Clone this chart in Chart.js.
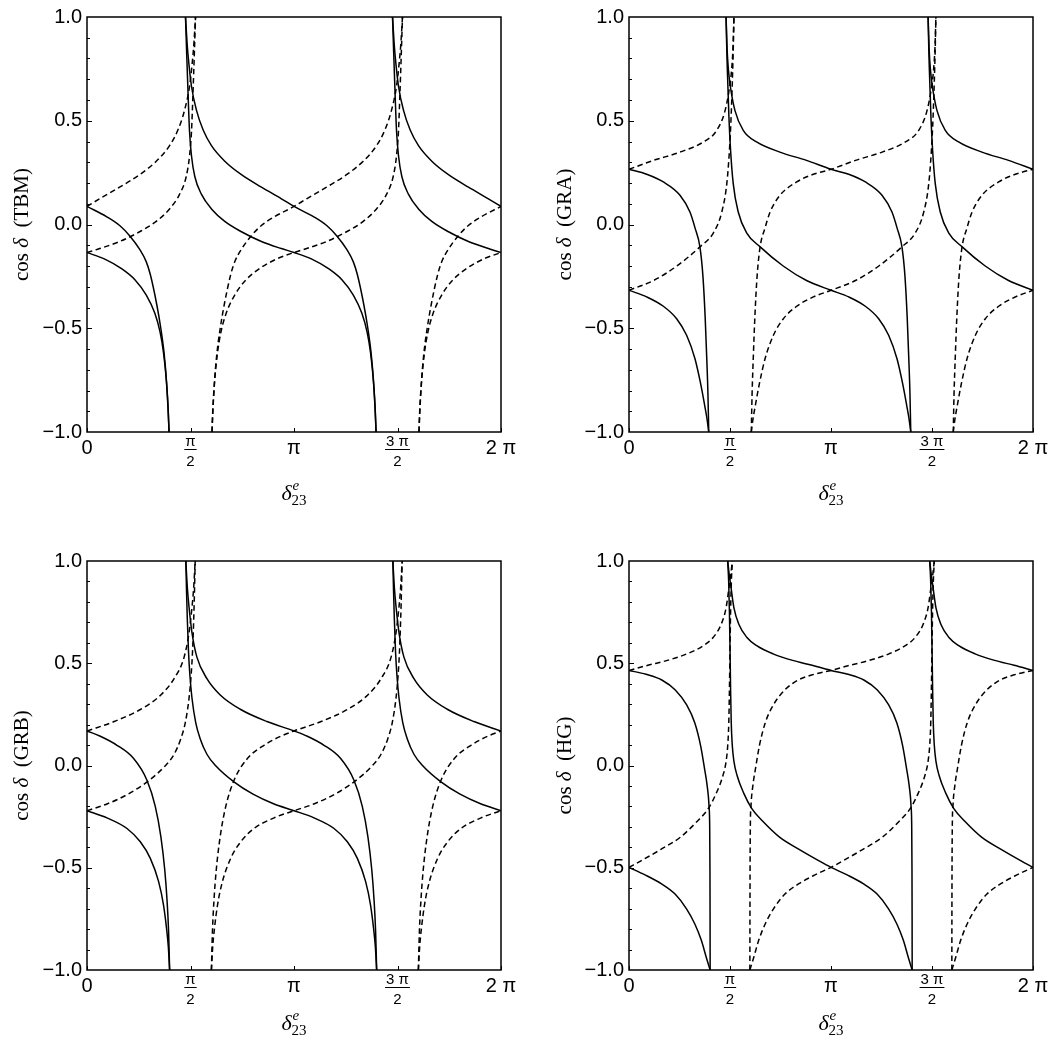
<!DOCTYPE html>
<html><head><meta charset="utf-8">
<script src="https://cdn.jsdelivr.net/npm/chart.js@4.4.1/dist/chart.umd.min.js"></script>
<style>
html,body{margin:0;padding:0;background:#fff;}
#wrap{position:relative;width:1064px;height:1048px;overflow:hidden;background:#fff;}
.cell{position:absolute;width:532px;height:524px;}
</style></head><body>
<div id="wrap">
<div class="cell" style="left:0;top:0"><canvas id="c0" width="532" height="524"></canvas></div>
<div class="cell" style="left:532px;top:0"><canvas id="c1" width="532" height="524"></canvas></div>
<div class="cell" style="left:0;top:524px"><canvas id="c2" width="532" height="524"></canvas></div>
<div class="cell" style="left:532px;top:524px"><canvas id="c3" width="532" height="524"></canvas></div>
</div>
<script>
// ---- labels ----
const panelNames = ['TBM', 'GRA', 'GRB', 'HG'];
const xTickValues = [0, 1.5708, 3.1416, 4.7124, 6.2832];
const xTickLabels = ['0', ['π', '2'], 'π', ['3 π', '2'], '2 π'];
const yTickValues = [-1, -0.5, 0, 0.5, 1];

// ---- data: [delta23e (rad), cos delta]; null separates branches ----
const tbmSolidUpper = [[0,0.087],[0.3,0.037],[0.5,-0.006],[0.65,-0.055],[0.8,-0.12],[0.9,-0.18],[0.96,-0.24],[1.06,-0.388],[1.12,-0.5],[1.17,-0.62],[1.21,-0.77],[1.235,-0.91],[1.245,-1],null,
 [1.495,1],[1.52,0.87],[1.546,0.775],[1.586,0.665],[1.662,0.55],[1.763,0.455],[1.889,0.38],[2.091,0.305],[2.344,0.24],[2.647,0.18],[2.95,0.124],[3.142,0.087],
 [3.442,0.037],[3.642,-0.006],[3.792,-0.055],[3.942,-0.12],[4.042,-0.18],[4.102,-0.24],[4.202,-0.388],[4.262,-0.5],[4.312,-0.62],[4.352,-0.77],[4.377,-0.91],[4.387,-1],null,
 [4.637,1],[4.662,0.87],[4.688,0.775],[4.728,0.665],[4.804,0.55],[4.905,0.455],[5.031,0.38],[5.233,0.305],[5.486,0.24],[5.789,0.18],[6.092,0.124],[6.283,0.087]];
const tbmSolidLower = [[0,-0.135],[0.27,-0.167],[0.53,-0.214],[0.73,-0.267],[0.9,-0.34],[1.03,-0.428],[1.11,-0.52],[1.16,-0.615],[1.2,-0.735],[1.228,-0.875],[1.245,-1],null,
 [1.495,1],[1.51,0.852],[1.536,0.61],[1.556,0.449],[1.586,0.33],[1.637,0.23],[1.738,0.145],[1.889,0.075],[2.091,0.015],[2.344,-0.035],[2.647,-0.082],[2.95,-0.116],[3.142,-0.135],
 [3.412,-0.167],[3.672,-0.214],[3.872,-0.267],[4.042,-0.34],[4.172,-0.428],[4.252,-0.52],[4.302,-0.615],[4.342,-0.735],[4.37,-0.875],[4.387,-1],null,
 [4.637,1],[4.652,0.852],[4.678,0.61],[4.698,0.449],[4.728,0.33],[4.779,0.23],[4.88,0.145],[5.031,0.075],[5.233,0.015],[5.486,-0.035],[5.789,-0.082],[6.092,-0.116],[6.283,-0.135]];
const tbmDashedUpper = [[0,0.087],[0.192,0.124],[0.495,0.18],[0.798,0.24],[1.051,0.305],[1.253,0.38],[1.379,0.455],[1.48,0.55],[1.556,0.665],[1.596,0.775],[1.622,0.87],[1.647,1],null,
 [1.897,-1],[1.907,-0.91],[1.932,-0.77],[1.972,-0.62],[2.022,-0.5],[2.082,-0.388],[2.182,-0.24],[2.242,-0.18],[2.342,-0.12],[2.492,-0.055],[2.642,-0.006],[2.842,0.037],[3.142,0.087],
 [3.333,0.124],[3.636,0.18],[3.939,0.24],[4.192,0.305],[4.394,0.38],[4.52,0.455],[4.621,0.55],[4.697,0.665],[4.737,0.775],[4.763,0.87],[4.788,1],null,
 [5.038,-1],[5.048,-0.91],[5.073,-0.77],[5.113,-0.62],[5.163,-0.5],[5.223,-0.388],[5.323,-0.24],[5.383,-0.18],[5.483,-0.12],[5.633,-0.055],[5.783,-0.006],[5.983,0.037],[6.283,0.087]];
const tbmDashedLower = [[0,-0.135],[0.192,-0.116],[0.495,-0.082],[0.798,-0.035],[1.051,0.015],[1.253,0.075],[1.404,0.145],[1.505,0.23],[1.556,0.33],[1.586,0.449],[1.606,0.61],[1.632,0.852],[1.647,1],null,
 [1.897,-1],[1.914,-0.875],[1.942,-0.735],[1.982,-0.615],[2.032,-0.52],[2.112,-0.428],[2.242,-0.34],[2.412,-0.267],[2.612,-0.214],[2.872,-0.167],[3.142,-0.135],
 [3.333,-0.116],[3.636,-0.082],[3.939,-0.035],[4.192,0.015],[4.394,0.075],[4.545,0.145],[4.646,0.23],[4.697,0.33],[4.727,0.449],[4.747,0.61],[4.773,0.852],[4.788,1],null,
 [5.038,-1],[5.055,-0.875],[5.083,-0.735],[5.123,-0.615],[5.173,-0.52],[5.253,-0.428],[5.383,-0.34],[5.553,-0.267],[5.753,-0.214],[6.013,-0.167],[6.283,-0.135]];

const graSolidUpper = [[0,0.266],[0.275,0.242],[0.534,0.205],[0.793,0.141],[0.948,0.06],[1.03,-0.02],[1.103,-0.108],[1.15,-0.25],[1.185,-0.45],[1.21,-0.65],[1.228,-0.82],[1.24,-1],null,
 [1.51,1],[1.525,0.85],[1.545,0.75],[1.57,0.679],[1.647,0.55],[1.777,0.454],[1.984,0.398],[2.347,0.349],[2.761,0.309],[3.142,0.266],
 [3.417,0.242],[3.676,0.205],[3.935,0.141],[4.09,0.06],[4.172,-0.02],[4.245,-0.108],[4.292,-0.25],[4.327,-0.45],[4.352,-0.65],[4.37,-0.82],[4.382,-1],null,
 [4.652,1],[4.667,0.85],[4.687,0.75],[4.712,0.679],[4.789,0.55],[4.919,0.454],[5.126,0.398],[5.489,0.349],[5.903,0.309],[6.283,0.266]];
const graSolidLower = [[0,-0.317],[0.275,-0.349],[0.534,-0.394],[0.741,-0.454],[0.896,-0.534],[1.026,-0.647],[1.114,-0.767],[1.176,-0.87],[1.215,-0.94],[1.24,-1],null,
 [1.51,1],[1.518,0.88],[1.528,0.759],[1.554,0.518],[1.58,0.357],[1.621,0.197],[1.699,0.06],[1.829,-0.04],[2.04,-0.108],[2.398,-0.2],[2.761,-0.27],[3.142,-0.317],
 [3.417,-0.349],[3.676,-0.394],[3.883,-0.454],[4.038,-0.534],[4.168,-0.647],[4.256,-0.767],[4.318,-0.87],[4.357,-0.94],[4.382,-1],null,
 [4.652,1],[4.66,0.88],[4.67,0.759],[4.696,0.518],[4.722,0.357],[4.763,0.197],[4.841,0.06],[4.971,-0.04],[5.182,-0.108],[5.54,-0.2],[5.903,-0.27],[6.283,-0.317]];
const graDashedUpper = [[0,0.266],[0.381,0.309],[0.795,0.349],[1.158,0.398],[1.365,0.454],[1.495,0.55],[1.572,0.679],[1.597,0.75],[1.617,0.85],[1.632,1],null,
 [1.902,-1],[1.914,-0.82],[1.932,-0.65],[1.957,-0.45],[1.992,-0.25],[2.039,-0.108],[2.112,-0.02],[2.194,0.06],[2.349,0.141],[2.608,0.205],[2.867,0.242],[3.142,0.266],
 [3.522,0.309],[3.936,0.349],[4.299,0.398],[4.506,0.454],[4.636,0.55],[4.713,0.679],[4.738,0.75],[4.758,0.85],[4.773,1],null,
 [5.043,-1],[5.055,-0.82],[5.073,-0.65],[5.098,-0.45],[5.133,-0.25],[5.18,-0.108],[5.253,-0.02],[5.335,0.06],[5.49,0.141],[5.749,0.205],[6.008,0.242],[6.283,0.266]];
const graDashedLower = [[0,-0.317],[0.381,-0.27],[0.744,-0.2],[1.102,-0.108],[1.313,-0.04],[1.443,0.06],[1.521,0.197],[1.562,0.357],[1.588,0.518],[1.614,0.759],[1.624,0.88],[1.632,1],null,
 [1.902,-1],[1.927,-0.94],[1.966,-0.87],[2.028,-0.767],[2.116,-0.647],[2.246,-0.534],[2.401,-0.454],[2.608,-0.394],[2.867,-0.349],[3.142,-0.317],
 [3.522,-0.27],[3.885,-0.2],[4.243,-0.108],[4.454,-0.04],[4.584,0.06],[4.662,0.197],[4.703,0.357],[4.729,0.518],[4.755,0.759],[4.765,0.88],[4.773,1],null,
 [5.043,-1],[5.068,-0.94],[5.107,-0.87],[5.169,-0.767],[5.257,-0.647],[5.387,-0.534],[5.542,-0.454],[5.749,-0.394],[6.008,-0.349],[6.283,-0.317]];

const grbSolidUpper = [[0,0.169],[0.202,0.143],[0.455,0.099],[0.708,0.034],[0.91,-0.072],[1.036,-0.2],[1.122,-0.35],[1.18,-0.51],[1.215,-0.66],[1.238,-0.81],[1.254,-1],null,
 [1.5,1],[1.525,0.86],[1.55,0.77],[1.593,0.65],[1.668,0.53],[1.82,0.425],[2.022,0.345],[2.326,0.275],[2.73,0.215],[3.142,0.169],
 [3.344,0.143],[3.597,0.099],[3.85,0.034],[4.052,-0.072],[4.178,-0.2],[4.264,-0.35],[4.322,-0.51],[4.357,-0.66],[4.38,-0.81],[4.396,-1],null,
 [4.642,1],[4.667,0.86],[4.692,0.77],[4.735,0.65],[4.81,0.53],[4.962,0.425],[5.164,0.345],[5.468,0.275],[5.872,0.215],[6.283,0.169]];
const grbSolidLower = [[0,-0.221],[0.303,-0.256],[0.607,-0.308],[0.809,-0.373],[0.961,-0.454],[1.087,-0.568],[1.16,-0.68],[1.205,-0.79],[1.235,-0.89],[1.254,-1],null,
 [1.5,1],[1.51,0.86],[1.522,0.72],[1.54,0.56],[1.562,0.44],[1.593,0.33],[1.65,0.21],[1.719,0.13],[1.82,0.055],[1.95,0],[2.23,-0.08],[2.52,-0.14],[2.831,-0.187],[3.142,-0.221],
 [3.445,-0.256],[3.749,-0.308],[3.951,-0.373],[4.103,-0.454],[4.229,-0.568],[4.302,-0.68],[4.347,-0.79],[4.377,-0.89],[4.396,-1],null,
 [4.642,1],[4.652,0.86],[4.664,0.72],[4.682,0.56],[4.704,0.44],[4.735,0.33],[4.792,0.21],[4.861,0.13],[4.962,0.055],[5.092,0],[5.372,-0.08],[5.662,-0.14],[5.973,-0.187],[6.283,-0.221]];
const grbDashedUpper = [[0,0.169],[0.412,0.215],[0.816,0.275],[1.12,0.345],[1.322,0.425],[1.474,0.53],[1.549,0.65],[1.592,0.77],[1.617,0.86],[1.642,1],null,
 [1.888,-1],[1.904,-0.81],[1.927,-0.66],[1.962,-0.51],[2.02,-0.35],[2.106,-0.2],[2.232,-0.072],[2.434,0.034],[2.687,0.099],[2.94,0.143],[3.142,0.169],
 [3.553,0.215],[3.957,0.275],[4.261,0.345],[4.463,0.425],[4.615,0.53],[4.69,0.65],[4.733,0.77],[4.758,0.86],[4.783,1],null,
 [5.029,-1],[5.045,-0.81],[5.068,-0.66],[5.103,-0.51],[5.161,-0.35],[5.247,-0.2],[5.373,-0.072],[5.575,0.034],[5.828,0.099],[6.081,0.143],[6.283,0.169]];
const grbDashedLower = [[0,-0.221],[0.311,-0.187],[0.622,-0.14],[0.912,-0.08],[1.192,0],[1.322,0.055],[1.423,0.13],[1.492,0.21],[1.549,0.33],[1.58,0.44],[1.602,0.56],[1.62,0.72],[1.632,0.86],[1.642,1],null,
 [1.888,-1],[1.907,-0.89],[1.937,-0.79],[1.982,-0.68],[2.055,-0.568],[2.181,-0.454],[2.333,-0.373],[2.535,-0.308],[2.839,-0.256],[3.142,-0.221],
 [3.452,-0.187],[3.763,-0.14],[4.053,-0.08],[4.333,0],[4.463,0.055],[4.564,0.13],[4.633,0.21],[4.69,0.33],[4.721,0.44],[4.743,0.56],[4.761,0.72],[4.773,0.86],[4.783,1],null,
 [5.029,-1],[5.048,-0.89],[5.078,-0.79],[5.123,-0.68],[5.196,-0.568],[5.322,-0.454],[5.474,-0.373],[5.676,-0.308],[5.98,-0.256],[6.283,-0.221]];

const hgSolidUpper = [[0,0.465],[0.263,0.446],[0.517,0.417],[0.72,0.369],[0.897,0.296],[1.024,0.208],[1.115,0.095],[1.176,-0.018],[1.216,-0.1],[1.245,-0.2],[1.255,-0.3],[1.259,-0.5],[1.261,-0.75],[1.262,-1],null,
 [1.535,1],[1.56,0.93],[1.581,0.884],[1.632,0.771],[1.708,0.691],[1.834,0.626],[1.986,0.586],[2.24,0.546],[2.544,0.514],[2.848,0.49],[3.142,0.465],
 [3.405,0.446],[3.659,0.417],[3.862,0.369],[4.039,0.296],[4.166,0.208],[4.257,0.095],[4.318,-0.018],[4.358,-0.1],[4.387,-0.2],[4.397,-0.3],[4.401,-0.5],[4.403,-0.75],[4.404,-1],null,
 [4.677,1],[4.702,0.93],[4.723,0.884],[4.774,0.771],[4.85,0.691],[4.976,0.626],[5.128,0.586],[5.382,0.546],[5.686,0.514],[5.99,0.49],[6.283,0.465]];
const hgSolidLower = [[0,-0.498],[0.25,-0.535],[0.5,-0.578],[0.72,-0.63],[0.897,-0.702],[1.024,-0.775],[1.125,-0.855],[1.2,-0.936],[1.262,-1],null,
 [1.535,1],[1.55,0.9],[1.562,0.75],[1.572,0.55],[1.58,0.37],[1.59,0.21],[1.606,0.1],[1.632,0.02],[1.682,-0.05],[1.784,-0.135],[1.91,-0.211],[2.088,-0.275],[2.341,-0.35],[2.645,-0.41],[2.949,-0.465],[3.142,-0.498],
 [3.392,-0.535],[3.642,-0.578],[3.862,-0.63],[4.039,-0.702],[4.166,-0.775],[4.267,-0.855],[4.342,-0.936],[4.404,-1],null,
 [4.677,1],[4.692,0.9],[4.704,0.75],[4.714,0.55],[4.722,0.37],[4.732,0.21],[4.748,0.1],[4.774,0.02],[4.824,-0.05],[4.926,-0.135],[5.052,-0.211],[5.23,-0.275],[5.483,-0.35],[5.787,-0.41],[6.091,-0.465],[6.283,-0.498]];
const hgDashedUpper = [[0,0.465],[0.294,0.49],[0.598,0.514],[0.902,0.546],[1.156,0.586],[1.308,0.626],[1.434,0.691],[1.51,0.771],[1.561,0.884],[1.582,0.93],[1.607,1],null,
 [1.88,-1],[1.881,-0.75],[1.883,-0.5],[1.887,-0.3],[1.897,-0.2],[1.926,-0.1],[1.966,-0.018],[2.027,0.095],[2.118,0.208],[2.245,0.296],[2.422,0.369],[2.625,0.417],[2.879,0.446],[3.142,0.465],
 [3.435,0.49],[3.739,0.514],[4.043,0.546],[4.297,0.586],[4.449,0.626],[4.575,0.691],[4.651,0.771],[4.702,0.884],[4.723,0.93],[4.748,1],null,
 [5.021,-1],[5.022,-0.75],[5.024,-0.5],[5.028,-0.3],[5.038,-0.2],[5.067,-0.1],[5.107,-0.018],[5.168,0.095],[5.259,0.208],[5.386,0.296],[5.563,0.369],[5.766,0.417],[6.02,0.446],[6.283,0.465]];
const hgDashedLower = [[0,-0.498],[0.193,-0.465],[0.497,-0.41],[0.801,-0.35],[1.054,-0.275],[1.232,-0.211],[1.358,-0.135],[1.46,-0.05],[1.51,0.02],[1.536,0.1],[1.552,0.21],[1.562,0.37],[1.57,0.55],[1.58,0.75],[1.592,0.9],[1.607,1],null,
 [1.88,-1],[1.942,-0.936],[2.017,-0.855],[2.118,-0.775],[2.245,-0.702],[2.422,-0.63],[2.642,-0.578],[2.892,-0.535],[3.142,-0.498],
 [3.334,-0.465],[3.638,-0.41],[3.942,-0.35],[4.195,-0.275],[4.373,-0.211],[4.499,-0.135],[4.601,-0.05],[4.651,0.02],[4.677,0.1],[4.693,0.21],[4.703,0.37],[4.711,0.55],[4.721,0.75],[4.733,0.9],[4.748,1],null,
 [5.021,-1],[5.083,-0.936],[5.158,-0.855],[5.259,-0.775],[5.386,-0.702],[5.563,-0.63],[5.783,-0.578],[6.033,-0.535],[6.283,-0.498]];

// ---- drawing ----
const W = 532, H = 524;
const SANS = "'Liberation Sans', Arial, Helvetica, sans-serif";
const SERIF = "'Liberation Serif', 'Times New Roman', serif";

function splitSegments(arr) {
  const segs = []; let cur = [];
  arr.forEach(p => { if (p === null) { if (cur.length) segs.push(cur); cur = []; } else cur.push(p); });
  if (cur.length) segs.push(cur);
  return segs;
}

const framePlugin = {
  id: 'frameTitles',
  afterDraw(chart) {
    const o = chart.options.plugins.frameTitles;
    const ctx = chart.ctx, ca = chart.chartArea;
    const xs = chart.scales.x, ys = chart.scales.y;
    ctx.save();
    ctx.strokeStyle = '#000'; ctx.lineWidth = 1.5;
    ctx.strokeRect(ca.left, ca.top, ca.right - ca.left, ca.bottom - ca.top);
    ctx.lineWidth = 1;
    ctx.beginPath();
    for (let i = -9; i <= 9; i++) {
      const y = Math.round(ys.getPixelForValue(i / 10)) + 0.5;
      const len = (i % 5 === 0) ? 5 : 3;
      ctx.moveTo(ca.left, y); ctx.lineTo(ca.left + len, y);
    }
    xTickValues.forEach(v => {
      const x = Math.round(xs.getPixelForValue(v)) + 0.5;
      ctx.moveTo(x, ca.bottom); ctx.lineTo(x, ca.bottom - 4);
    });
    ctx.stroke();
    // fraction bars under the numerators of pi/2 and 3pi/2
    ctx.font = '15px ' + SANS;
    ctx.lineWidth = 1;
    xTickLabels.forEach((lab, i) => {
      if (!Array.isArray(lab)) return;
      const x = xs.getPixelForValue(xTickValues[i]);
      const w = ctx.measureText(lab[0]).width + 2;
      const y = ca.bottom + o.barOffset + 0.5;
      ctx.beginPath(); ctx.moveTo(x - w / 2, y); ctx.lineTo(x + w / 2, y); ctx.stroke();
    });
    // y title: cos δ  (NAME)
    ctx.fillStyle = '#000';
    ctx.translate(o.yTitleX, (ca.top + ca.bottom) / 2);
    ctx.rotate(-Math.PI / 2);
    const parts = [['cos ', ''], ['δ', 'italic '], ['  (' + o.name + ')', '']];
    let total = 0;
    parts.forEach(p => { ctx.font = p[1] + '21px ' + SERIF; total += ctx.measureText(p[0]).width; });
    let cx = -total / 2;
    ctx.textBaseline = 'middle'; ctx.textAlign = 'left';
    parts.forEach(p => { ctx.font = p[1] + '21px ' + SERIF; ctx.fillText(p[0], cx, 0); cx += ctx.measureText(p[0]).width; });
    ctx.setTransform(1, 0, 0, 1, 0, 0);
    // x title: δ^e_23
    const mx = (ca.left + ca.right) / 2;
    const by = ca.bottom + o.xTitleOffset;
    ctx.textBaseline = 'alphabetic'; ctx.textAlign = 'left';
    ctx.font = 'italic 22px ' + SERIF;
    const dw = ctx.measureText('δ').width;
    const x0 = mx - (dw + 15) / 2;
    ctx.fillText('δ', x0, by);
    ctx.font = 'italic 15px ' + SERIF;
    ctx.fillText('e', x0 + dw + 1, by - 10);
    ctx.font = '15px ' + SERIF;
    ctx.fillText('23', x0 + dw, by + 5);
    ctx.restore();
  }
};

function makeChart(id, name, series, area, xTitleOffset, yTitleX) {
  const datasets = [];
  series.forEach(([arr, dashed]) => {
    splitSegments(arr).forEach(seg => datasets.push({
      data: seg.map(p => ({ x: p[0], y: p[1] })),
      borderColor: '#000', borderWidth: 1.5, borderDash: dashed ? [5.5, 3.5] : [],
      pointRadius: 0, pointHoverRadius: 0, tension: 0.4, cubicInterpolationMode: 'monotone',
      fill: false, clip: 0
    }));
  });
  return new Chart(document.getElementById(id), {
    type: 'line',
    data: { datasets },
    plugins: [framePlugin],
    options: {
      responsive: false, animation: false, devicePixelRatio: 1,
      events: [],
      layout: { padding: { left: 0, top: area.top, right: W - area.right, bottom: 0 } },
      plugins: {
        legend: { display: false }, tooltip: { enabled: false },
        frameTitles: { name, xTitleOffset, yTitleX, barOffset: 17 }
      },
      scales: {
        x: {
          type: 'linear', min: 0, max: 2 * Math.PI,
          afterBuildTicks: s => { s.ticks = xTickValues.map(v => ({ value: v })); },
          afterFit: s => { s.height = H - area.bottom; s.paddingLeft = 0; s.paddingRight = 0; },
          grid: { display: false, drawTicks: false }, border: { display: false },
          ticks: {
            autoSkip: false, maxRotation: 0, minRotation: 0, padding: 0, color: '#000',
            callback: (v, i) => xTickLabels[i],
            font: c => (Array.isArray(xTickLabels[c.index]) ? { family: SANS, size: 15, lineHeight: 1.34 } : { family: SANS, size: 20, lineHeight: 1.6 })
          }
        },
        y: {
          type: 'linear', min: -1, max: 1,
          afterBuildTicks: s => { s.ticks = yTickValues.map(v => ({ value: v })); },
          afterFit: s => { s.width = area.left; s.paddingTop = 0; s.paddingBottom = 0; },
          grid: { display: false, drawTicks: false }, border: { display: false },
          ticks: {
            padding: 5, color: '#000', font: { family: SANS, size: 20 },
            callback: v => (v < 0 ? '−' : '') + Math.abs(v).toFixed(1)
          }
        }
      }
    }
  });
}

makeChart('c0', panelNames[0], [[tbmSolidUpper, false], [tbmSolidLower, false], [tbmDashedUpper, true], [tbmDashedLower, true]],
  { left: 87, top: 17, right: 501, bottom: 432 }, 68, 22);
makeChart('c1', panelNames[1], [[graSolidUpper, false], [graSolidLower, false], [graDashedUpper, true], [graDashedLower, true]],
  { left: 97, top: 17, right: 501, bottom: 432 }, 68, 33);
makeChart('c2', panelNames[2], [[grbSolidUpper, false], [grbSolidLower, false], [grbDashedUpper, true], [grbDashedLower, true]],
  { left: 87, top: 37, right: 501, bottom: 446 }, 60, 22);
makeChart('c3', panelNames[3], [[hgSolidUpper, false], [hgSolidLower, false], [hgDashedUpper, true], [hgDashedLower, true]],
  { left: 97, top: 37, right: 501, bottom: 446 }, 60, 33);
</script>
</body></html>
